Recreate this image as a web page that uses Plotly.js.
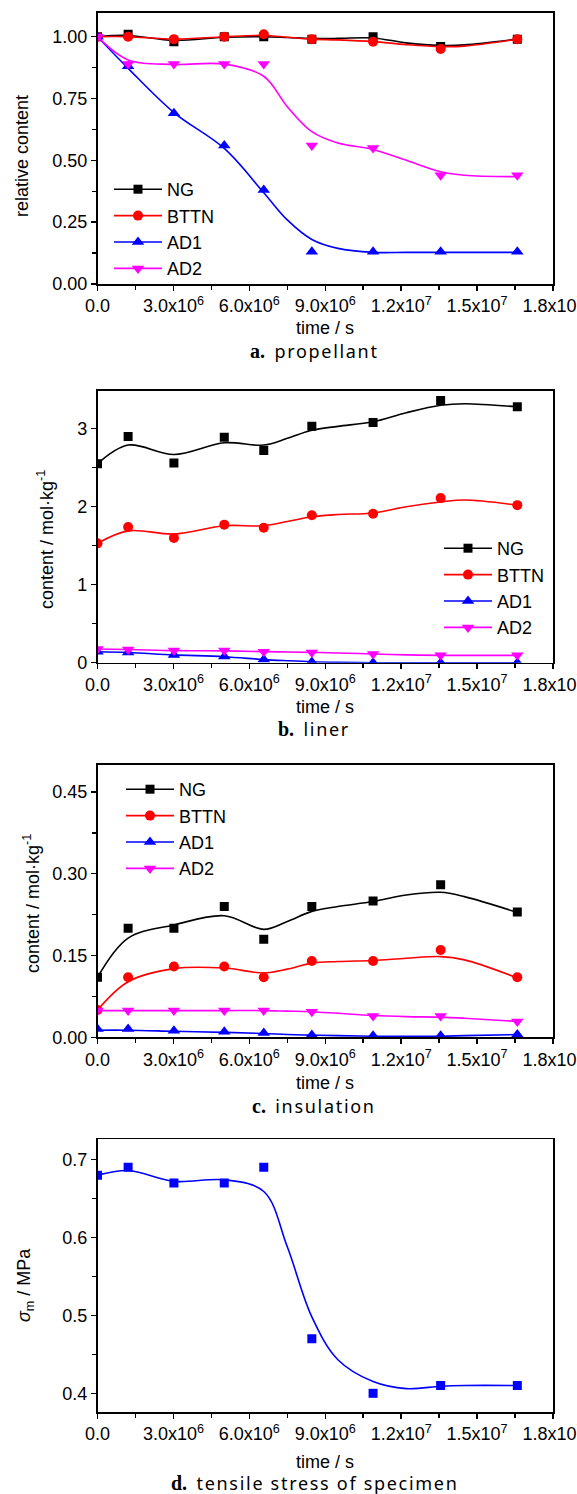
<!DOCTYPE html>
<html>
<head>
<meta charset="utf-8">
<script src="https://cdn.plot.ly/plotly-3.0.1.min.js"></script>
<style>
html,body{margin:0;padding:0;background:#fff;}
#chart{width:577px;height:1494px;}
</style>
</head>
<body>
<div id="chart"></div>
<script>
// ---------------- DATA ----------------
const seriesNames = ["NG", "BTTN", "AD1", "AD2"];
const timeS = [0, 1.21e6, 3.02e6, 5.01e6, 6.57e6, 8.47e6, 1.089e7, 1.356e7, 1.659e7];
const fitTime = [0, 1.21e6, 3.02e6, 5.01e6, 6.57e6, 7.5e6, 8.47e6, 9.5e6, 1.089e7, 1.22e7, 1.356e7, 1.45e7, 1.659e7];

const xTickVals = [0, 3e6, 6e6, 9e6, 1.2e7, 1.5e7, 1.8e7];
const xTickText = ["0.0", "3.0x10<sup>6</sup>", "6.0x10<sup>6</sup>", "9.0x10<sup>6</sup>",
                   "1.2x10<sup>7</sup>", "1.5x10<sup>7</sup>", "1.8x10<sup>7</sup>"];

// a. propellant (relative content)
const propNG   = [1.00, 1.01, 0.98, 1.00, 1.00, 0.99, 1.00, 0.96, 0.99];
const propBTTN = [1.00, 1.00, 0.99, 1.00, 1.01, 0.99, 0.98, 0.95, 0.99];
const propAD1  = [1.00, 0.88, 0.69, 0.56, 0.38, 0.13, 0.13, 0.13, 0.13];
const propAD2  = [1.00, 0.89, 0.89, 0.89, 0.89, 0.56, 0.55, 0.44, 0.44];
const propNGFit   = [1.00, 1.005, 0.985, 0.998, 1.00, 0.997, 0.993, 0.993, 0.995, 0.975, 0.965, 0.967, 0.99];
const propBTTNFit = [1.00, 1.00, 0.99, 1.00, 1.005, 0.998, 0.99, 0.987, 0.98, 0.968, 0.96, 0.962, 0.99];
const propAD1Fit  = [1.00, 0.872, 0.693, 0.548, 0.369, 0.259, 0.18, 0.144, 0.128, 0.128, 0.128, 0.128, 0.128];
const propAD2Fit  = [1.00, 0.906, 0.888, 0.889, 0.84, 0.717, 0.616, 0.57, 0.544, 0.50, 0.454, 0.44, 0.434];

// b. liner (mol/kg)
const linerNG   = [2.55, 2.90, 2.56, 2.89, 2.72, 3.03, 3.08, 3.36, 3.28];
const linerBTTN = [1.53, 1.74, 1.60, 1.77, 1.73, 1.89, 1.91, 2.11, 2.02];
const linerAD1  = [0.14, 0.13, 0.10, 0.08, 0.04, 0.01, 0.00, 0.00, 0.00];
const linerAD2  = [0.175, 0.17, 0.155, 0.155, 0.14, 0.13, 0.11, 0.095, 0.095];
const linerNGFit   = [2.55, 2.79, 2.67, 2.82, 2.79, 2.876, 2.98, 3.03, 3.09, 3.205, 3.30, 3.32, 3.28];
const linerBTTNFit = [1.53, 1.69, 1.65, 1.756, 1.756, 1.81, 1.87, 1.90, 1.92, 2.00, 2.06, 2.085, 2.02];
const linerAD1Fit  = [0.14, 0.13, 0.10, 0.077, 0.04, 0.025, 0.012, 0.005, 0.0, 0.0, 0.0, 0.0, 0.0];
const linerAD2Fit  = [0.175, 0.17, 0.155, 0.152, 0.142, 0.137, 0.132, 0.125, 0.112, 0.10, 0.094, 0.094, 0.094];

// c. insulation (mol/kg)
const insuNG   = [0.11, 0.20, 0.20, 0.24, 0.18, 0.24, 0.25, 0.28, 0.23];
const insuBTTN = [0.05, 0.11, 0.13, 0.13, 0.11, 0.14, 0.14, 0.16, 0.11];
const insuAD1  = [0.015, 0.015, 0.012, 0.010, 0.008, 0.004, 0.003, 0.003, 0.005];
const insuAD2  = [0.049, 0.049, 0.049, 0.049, 0.049, 0.047, 0.039, 0.039, 0.029];
const insuNGFit   = [0.11, 0.182, 0.206, 0.223, 0.198, 0.2125, 0.231, 0.240, 0.249, 0.261, 0.266, 0.258, 0.229];
const insuBTTNFit = [0.05, 0.102, 0.126, 0.127, 0.118, 0.125, 0.136, 0.139, 0.141, 0.145, 0.148, 0.142, 0.109];
const insuAD1Fit  = [0.013, 0.013, 0.011, 0.009, 0.007, 0.005, 0.004, 0.003, 0.002, 0.002, 0.002, 0.003, 0.005];
const insuAD2Fit  = [0.049, 0.049, 0.049, 0.049, 0.049, 0.048, 0.047, 0.044, 0.040, 0.038, 0.037, 0.035, 0.029];

// d. tensile stress (MPa)
const stress    = [0.68, 0.69, 0.67, 0.67, 0.69, 0.47, 0.40, 0.41, 0.41];
const stressFit = [0.68, 0.686, 0.672, 0.674, 0.659, 0.588, 0.498, 0.443, 0.415, 0.406, 0.409, 0.41, 0.41];

// ---------------- STYLE ----------------
const W = 577, H = 1494;
const px = x => x / W;
const py = y => 1 - y / H;
const colors = {NG: "#000000", BTTN: "#ff0000", AD1: "#0000ff", AD2: "#ff00ff"};
const symbols = {NG: "square", BTTN: "circle", AD1: "triangle-up", AD2: "triangle-down"};
const msizes = {NG: 9, BTTN: 10, AD1: 11, AD2: 11};
const SANS = "'Liberation Sans', Arial, sans-serif";

const traces = [];
function addSeries(xa, ya, legendId, name, data, fit, showLeg) {
  const c = colors[name];
  traces.push({x: fitTime, y: fit, xaxis: xa, yaxis: ya, mode: "lines",
    line: {color: c, width: 1.6, shape: "spline", smoothing: 1}, showlegend: false, hoverinfo: "skip"});
  traces.push({x: timeS, y: data, xaxis: xa, yaxis: ya, mode: "markers",
    marker: {symbol: symbols[name], size: msizes[name], color: c}, showlegend: false});
  if (showLeg) {
    traces.push({x: [null], y: [null], xaxis: xa, yaxis: ya, mode: "lines+markers", name: name,
      legend: legendId, line: {color: c, width: 1.6},
      marker: {symbol: symbols[name], size: msizes[name], color: c}, showlegend: true});
  }
}
const panelA = {NG: [propNG, propNGFit], BTTN: [propBTTN, propBTTNFit], AD1: [propAD1, propAD1Fit], AD2: [propAD2, propAD2Fit]};
const panelB = {NG: [linerNG, linerNGFit], BTTN: [linerBTTN, linerBTTNFit], AD1: [linerAD1, linerAD1Fit], AD2: [linerAD2, linerAD2Fit]};
const panelC = {NG: [insuNG, insuNGFit], BTTN: [insuBTTN, insuBTTNFit], AD1: [insuAD1, insuAD1Fit], AD2: [insuAD2, insuAD2Fit]};
seriesNames.forEach(n => addSeries("x", "y", "legend", n, panelA[n][0], panelA[n][1], true));
seriesNames.forEach(n => addSeries("x2", "y2", "legend2", n, panelB[n][0], panelB[n][1], true));
seriesNames.forEach(n => addSeries("x3", "y3", "legend3", n, panelC[n][0], panelC[n][1], true));
traces.push({x: fitTime, y: stressFit, xaxis: "x4", yaxis: "y4", mode: "lines",
  line: {color: "#0000ff", width: 1.6, shape: "spline", smoothing: 1}, showlegend: false});
traces.push({x: timeS, y: stress, xaxis: "x4", yaxis: "y4", mode: "markers",
  marker: {symbol: "square", size: 9, color: "#0000ff"}, showlegend: false});

const xDomain = [px(97.5), px(553)];
function xAxis(anchor) {
  return {domain: xDomain, anchor: anchor, range: [0, 1.8e7], tickmode: "array",
    tickvals: xTickVals, ticktext: xTickText, showline: true, linecolor: "#000", linewidth: 1.6,
    mirror: true, ticks: "outside", ticklen: 5, tickwidth: 1.5, tickcolor: "#000",
    showgrid: false, zeroline: false, ticklabeloverflow: "allow",
    minor: {dtick: 1.5e6, tick0: 0, ticks: "outside", ticklen: 4, tickwidth: 1.5, tickcolor: "#000", showgrid: false},
    tickfont: {family: SANS, size: 18, color: "#000"}};
}
function yAxis(anchor, top, bottom, range, dtick, minorD, fmt) {
  return {domain: [py(bottom), py(top)], anchor: anchor, range: range, dtick: dtick, tick0: 0,
    tickformat: fmt, showline: true, linecolor: "#000", linewidth: 1.6, mirror: true,
    ticks: "outside", ticklen: 5, tickwidth: 1.5, tickcolor: "#000", showgrid: false, zeroline: false,
    minor: {dtick: minorD, tick0: 0, ticks: "outside", ticklen: 4, tickwidth: 1.5, tickcolor: "#000", showgrid: false},
    tickfont: {family: SANS, size: 18, color: "#000"}};
}

const titleFont = {family: SANS, size: 18, color: "#000"};
const capFont = {family: "'Noto Sans', 'DejaVu Sans', sans-serif", size: 18, color: "#000"};
function cap(letter, text) {
  return "<span style=\"font-family:'Liberation Serif',serif;font-weight:bold;font-size:20px\">" + letter +
    "</span>  <span style=\"letter-spacing:1.7px\">" + text + "</span>";
}
const annotations = [];
[328, 707, 1083, 1462].forEach(y => {
  annotations.push({text: "time / s", xref: "paper", yref: "paper", x: px(325), y: py(y),
    xanchor: "center", yanchor: "middle", showarrow: false, font: titleFont});
});
annotations.push({text: "relative content", xref: "paper", yref: "paper", x: px(22), y: py(156),
  xanchor: "center", yanchor: "middle", textangle: -90, showarrow: false, font: titleFont});
annotations.push({text: "content / mol·kg<sup>-1</sup>", xref: "paper", yref: "paper", x: px(45), y: py(540),
  xanchor: "center", yanchor: "middle", textangle: -90, showarrow: false, font: titleFont});
annotations.push({text: "content / mol·kg<sup>-1</sup>", xref: "paper", yref: "paper", x: px(31), y: py(904),
  xanchor: "center", yanchor: "middle", textangle: -90, showarrow: false, font: titleFont});
annotations.push({text: "<i>σ</i><sub>m</sub> / MPa", xref: "paper", yref: "paper", x: px(25), y: py(1285),
  xanchor: "center", yanchor: "middle", textangle: -90, showarrow: false, font: titleFont});
[[351, "a.", "propellant"], [729, "b.", "liner"], [1106, "c.", "insulation"], [1483, "d.", "tensile stress of specimen"]]
  .forEach(([y, l, t]) => annotations.push({text: cap(l, t), xref: "paper", yref: "paper", x: px(314), y: py(y),
    xanchor: "center", yanchor: "middle", showarrow: false, font: capFont}));

const legendBase = {font: {family: SANS, size: 18, color: "#000"}, bgcolor: "rgba(0,0,0,0)",
  borderwidth: 0, itemwidth: 48, xanchor: "left", yanchor: "top", tracegroupgap: 0, itemclick: false};

const layout = {
  width: W, height: H, margin: {l: 0, r: 0, t: 0, b: 0},
  paper_bgcolor: "#fff", plot_bgcolor: "#fff",
  xaxis: xAxis("y"), xaxis2: xAxis("y2"), xaxis3: xAxis("y3"), xaxis4: xAxis("y4"),
  yaxis: yAxis("x", 12.7, 284, [0, 1.097], 0.25, 0.125, ".2f"),
  yaxis2: yAxis("x2", 390.7, 662.7, [0, 3.487], 1, 0.5, "d"),
  yaxis3: yAxis("x3", 764.7, 1037.3, [0, 0.5], 0.15, 0.075, ".2f"),
  yaxis4: yAxis("x4", 1139.3, 1412, [0.376, 0.726], 0.1, 0.05, ".1f"),
  legend: Object.assign({}, legendBase, {x: px(109), y: py(171)}),
  legend2: Object.assign({}, legendBase, {x: px(439), y: py(530)}),
  legend3: Object.assign({}, legendBase, {x: px(121), y: py(771)}),
  annotations: annotations,
  showlegend: true
};

Plotly.newPlot("chart", traces, layout, {staticPlot: true, displayModeBar: false});
</script>
</body>
</html>
